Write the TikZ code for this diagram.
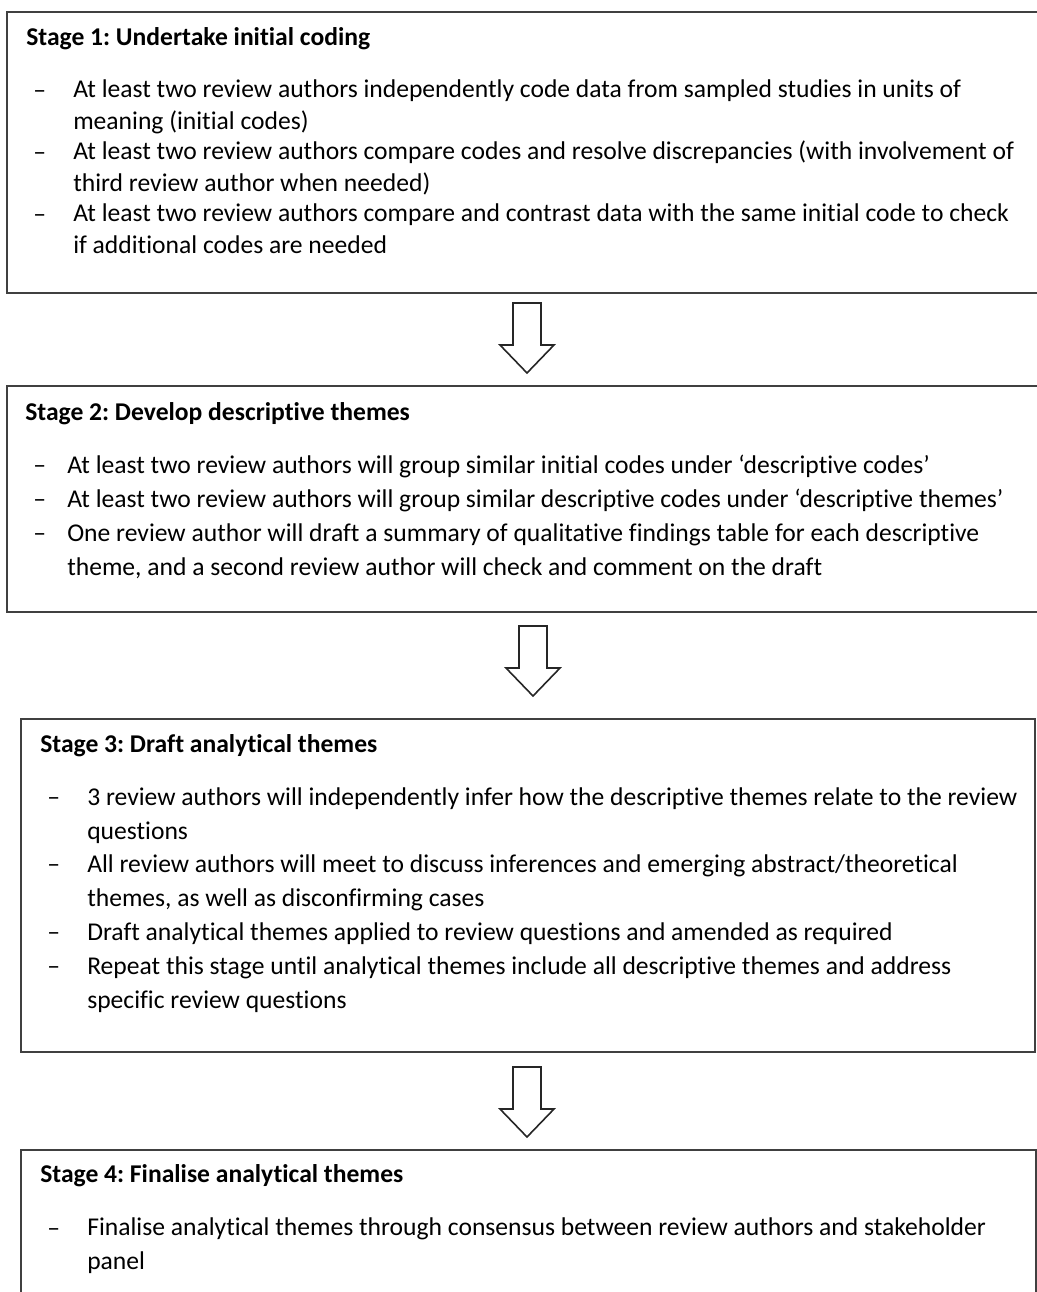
\documentclass[tikz,border=0pt]{standalone}
\usepackage{fontspec}
\setmainfont{Carlito}[Ligatures={TeX,NoCommon}]
\usetikzlibrary{fit}
\frenchspacing

\begin{document}
\begin{tikzpicture}[
  x=0.75pt, y=-0.75pt,
  stage box/.style={
    draw=black!75,
    line width=1.5pt,
    inner sep=0pt,
  },
  stage title/.style={
    anchor=base west,
    inner sep=0pt,
    font=\fontsize{19.2}{22}\selectfont\bfseries,
  },
  % multi-line items are placed at the baseline of their last line
  stage item/.style={
    anchor=base west,
    inner sep=0pt,
    align=left,
    font=\fontsize{19.2}{25.4}\selectfont,
  },
  stage dash/.style={
    anchor=base west,
    inner sep=0pt,
    font=\fontsize{19.2}{22}\selectfont,
  },
  down arrow/.style={
    draw=black!85,
    line width=1.2pt,
    fill=white,
    line join=miter,
  },
]
\useasboundingbox (0,0) rectangle (1037,1292);

% stage 1
\node[stage box, fit={(7,12) (1050,293)}] (s1) {};
\node[stage title] (s1title) at (26,45) {Stage 1: Undertake initial coding};
\node[stage dash] (s1d1) at (33,98) {–};
\node[stage item, font=\fontsize{19.2}{23.3}\selectfont] (s1i1) at (73,129)
  {At least two review authors independently code data from sampled studies in units of\\meaning (initial codes)};
\node[stage dash] (s1d2) at (33,160) {–};
\node[stage item, font=\fontsize{19.2}{23.3}\selectfont] (s1i2) at (73,191)
  {At least two review authors compare codes and resolve discrepancies (with involvement of\\third review author when needed)};
\node[stage dash] (s1d3) at (33,222) {–};
\node[stage item, font=\fontsize{19.2}{23.3}\selectfont] (s1i3) at (73,253)
  {At least two review authors compare and contrast data with the same initial code to check\\if additional codes are needed};

% stage 2
\node[stage box, fit={(7,386) (1050,612)}] (s2) {};
\node[stage title] (s2title) at (25,420) {Stage 2: Develop descriptive themes};
\node[stage dash] (s2d1) at (33,473) {–};
\node[stage item] (s2i1) at (67,473)
  {At least two review authors will group similar initial codes under ‘descriptive codes’};
\node[stage dash] (s2d2) at (33,507) {–};
\node[stage item] (s2i2) at (67,507)
  {At least two review authors will group similar descriptive codes under ‘descriptive themes’};
\node[stage dash] (s2d3) at (33,541) {–};
\node[stage item] (s2i3) at (67,575)
  {One review author will draft a summary of qualitative findings table for each descriptive\\theme, and a second review author will check and comment on the draft};

% stage 3
\node[stage box, fit={(21,719) (1035,1052)}] (s3) {};
\node[stage title] (s3title) at (40,752) {Stage 3: Draft analytical themes};
\node[stage dash] (s3d1) at (47,805) {–};
\node[stage item] (s3i1) at (87,839)
  {3 review authors will independently infer how the descriptive themes relate to the review\\questions};
\node[stage dash] (s3d2) at (47,872) {–};
\node[stage item] (s3i2) at (87,906)
  {All review authors will meet to discuss inferences and emerging abstract/theoretical\\themes, as well as disconfirming cases};
\node[stage dash] (s3d3) at (47,940) {–};
\node[stage item] (s3i3) at (87,940)
  {Draft analytical themes applied to review questions and amended as required};
\node[stage dash] (s3d4) at (47,974) {–};
\node[stage item] (s3i4) at (87,1008)
  {Repeat this stage until analytical themes include all descriptive themes and address\\specific review questions};

% stage 4
\node[stage box, fit={(21,1150) (1036,1320)}] (s4) {};
\node[stage title] (s4title) at (40,1182) {Stage 4: Finalise analytical themes};
\node[stage dash] (s4d1) at (47,1236) {–};
\node[stage item, font=\fontsize{19.2}{24.8}\selectfont] (s4i1) at (87,1269)
  {Finalise analytical themes through consensus between review authors and stakeholder\\panel};

% arrows between stages
\coordinate (a1) at (527,303);
\coordinate (a2) at (533,626);
\coordinate (a3) at (527,1067);
\foreach \a in {a1,a2,a3}
  \draw[down arrow] (\a) ++(-14,0) -- ++(28,0) -- ++(0,42) -- ++(13,0)
    -- ++(-27,28) -- ++(-27,-28) -- ++(13,0) -- cycle;
\end{tikzpicture}
\end{document}
